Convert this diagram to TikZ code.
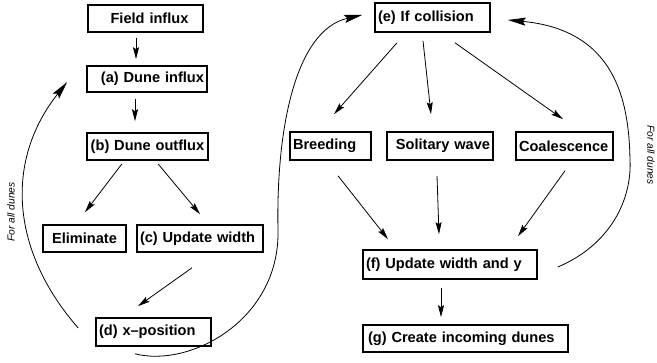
\documentclass[tikz,border=0pt]{standalone}
\usepackage{fontspec}
\setmainfont{Liberation Sans}
\usetikzlibrary{calc,arrows.meta}
\begin{document}
\begin{tikzpicture}[x=1pt,y=-1pt,
  box/.style={draw, line width=1.6pt, inner xsep=3pt, inner ysep=0pt,
    font=\fontsize{14.6}{16}\selectfont\bfseries, anchor=center},
  arr/.style={line width=0.8pt, -{Stealth[length=12pt,width=6pt,inset=2pt]}},
  loop/.style={line width=0.8pt, -{Stealth[length=18pt,width=8pt,inset=3pt]}},
  lbl/.style={font=\fontsize{10.2}{12}\selectfont\itshape}]
\useasboundingbox (0,0) rectangle (657,363);
% nodes (center, width, height)
\node[box, text width=109pt, minimum height=27pt, align=center] (field) at (145.5,18.5) {\hspace*{8pt}Field influx};
\node[box, text width=114pt, minimum height=26pt, align=right] (a) at (147,79) {(a) Dune influx};
\node[box, text width=115pt, minimum height=27pt, align=center] (b) at (147.5,146.5) {(b) Dune outflux};
\node[box, text width=77pt, minimum height=27pt, align=center] (elim) at (84.5,238.5) {Eliminate};
\node[box, text width=120pt, minimum height=27pt, align=left] (c) at (200,238.5) {(c) Update width};
\node[box, text width=109pt, minimum height=28pt, align=left] (d) at (153.5,332) {(d) x--position};
\node[box, text width=109pt, minimum height=29pt, align=left] (e) at (432.5,17.5) {(e) If collision};
\node[box, text width=75pt, minimum height=28pt, align=left] (br) at (330.5,146) {Breeding};
\node[box, text width=100pt, minimum height=28pt, align=right] (sol) at (440,146) {Solitary wave};
\node[box, text width=91pt, minimum height=28pt, align=left] (coal) at (564.5,146) {Coalescence};
\node[box, text width=168pt, minimum height=29pt, align=left] (f) at (450,264.5) {(f) Update width and y};
\node[box, text width=199pt, minimum height=27pt, align=left] (g) at (465.5,338.5) {\hspace*{2pt}(g) Create incoming dunes};
% labels
\node[lbl, rotate=90] (lblL) at (11,212) {For all dunes};
\node[lbl, rotate=-90] (lblR) at (651,155) {For all dunes};
% straight connectors
\draw[arr] ($(field.south)+(-9.5,5)$) -- ($(a.north)+(-11,-6)$);
\draw[arr] ($(a.south)+(-12,6)$) -- ($(b.north)+(-12.5,-11)$);
\draw[arr] ($(b.south)+(-25.5,3)$) -- ($(elim.north)+(0.5,-12)$);
\draw[arr] ($(b.south)+(10.5,3)$) -- ($(c.north)+(0,-10)$);
\draw[arr] ($(c.south)+(-8,15)$) -- ($(d.north)+(-15.5,-11)$);
\draw[arr] ($(e.south)+(-35.5,10)$) -- ($(br.north)+(3.5,-17)$);
\draw[arr] ($(e.south)+(-9.5,8)$) -- ($(sol.north)+(-9,-17)$);
\draw[arr] ($(e.south)+(22.5,10)$) -- ($(coal.north)+(-1.5,-12)$);
\draw[arr] ($(br.south)+(7.5,15)$) -- ($(f.north)+(-62,-10)$);
\draw[arr] ($(sol.south)+(-3,15)$) -- ($(f.north)+(-11,-15)$);
\draw[arr] ($(coal.south)+(0.5,10)$) -- ($(f.north)+(68,-13)$);
\draw[arr] ($(f.south)+(-9,8)$) -- ($(g.north)+(-24.5,-7)$);
% curved connectors
\draw[loop] ($(d.west)+(-17,-4)$) .. controls (10,250) and (5,160) .. ($(a.west)+(-19,3)$);
\coordinate (sMid) at (278,230);
\draw[loop] ($(d.south)+(-18.5,7)$) .. controls (190,368) and (280,320) .. (sMid)
   .. controls (276,130) and (295,30) .. ($(e.west)+(-12,-2.5)$);
\coordinate (rMid) at (630,160);
\draw[loop] ($(f.east)+(20,2.5)$) .. controls (610,245) and (632,200) .. (rMid)
   .. controls (629,100) and (615,30) .. ($(e.east)+(17,2.5)$);
\end{tikzpicture}
\end{document}
